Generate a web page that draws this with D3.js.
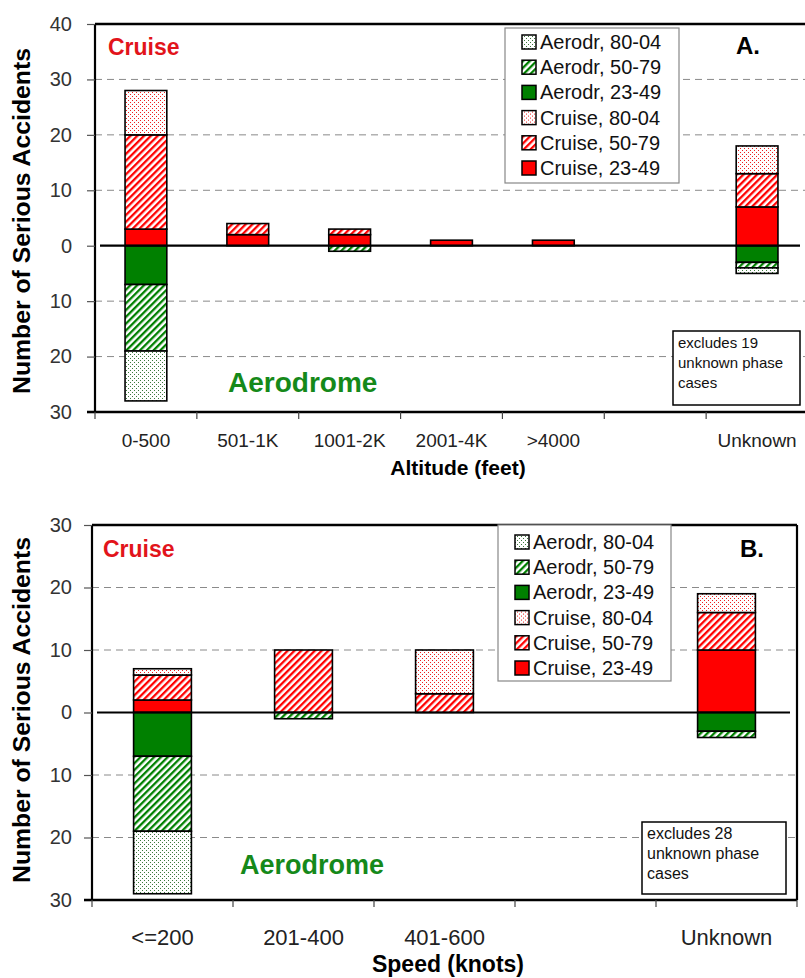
<!DOCTYPE html>
<html>
<head>
<meta charset="utf-8">
<script src="https://cdn.jsdelivr.net/npm/d3@7"></script>
<style>
body { margin: 0; background: #fff; }
text { font-family: Arial, "Liberation Sans", sans-serif; }
</style>
</head>
<body>
<div id="c1"></div>
<script>
// Panel A data (altitude)
var altCats = ["0-500", "501-1K", "1001-2K", "2001-4K", ">4000", "", "Unknown"];
var altCruise2349 = [3, 2, 2, 1, 1, 0, 7];
var altCruise5079 = [17, 2, 1, 0, 0, 0, 6];
var altCruise8004 = [8, 0, 0, 0, 0, 0, 5];
var altAero2349 = [7, 0, 0, 0, 0, 0, 3];
var altAero5079 = [12, 0, 1, 0, 0, 0, 1];
var altAero8004 = [9, 0, 0, 0, 0, 0, 1];
var altTicks = [-30, -20, -10, 0, 10, 20, 30, 40];

// Panel B data (speed)
var spdCats = ["<=200", "201-400", "401-600", "", "Unknown"];
var spdCruise2349 = [2, 0, 0, 0, 10];
var spdCruise5079 = [4, 10, 3, 0, 6];
var spdCruise8004 = [1, 0, 7, 0, 3];
var spdAero2349 = [7, 0, 0, 0, 3];
var spdAero5079 = [12, 1, 0, 0, 1];
var spdAero8004 = [10, 0, 0, 0, 0];
var spdTicks = [-30, -20, -10, 0, 10, 20, 30];

var legendKeys = ["a8004", "a5079", "a2349", "c8004", "c5079", "c2349"];
var legendLabels = ["Aerodr, 80-04", "Aerodr, 50-79", "Aerodr, 23-49", "Cruise, 80-04", "Cruise, 50-79", "Cruise, 23-49"];
var stackKeys = ["c2349", "a2349", "c5079", "a5079", "c8004", "a8004"];

var fills = {
    c2349: "#ff0000", a2349: "#008000",
    c5079: "url(#hatchRed)", a5079: "url(#hatchGreen)",
    c8004: "url(#dotRed)", a8004: "url(#dotGreen)"
};

var svg = d3.select("#c1").append("svg")
    .attr("width", 805)
    .attr("height", 978);

// Patterns
var defs = svg.append("defs");
function hatch(id, color) {
    var p = defs.append("pattern").attr("id", id)
        .attr("patternUnits", "userSpaceOnUse")
        .attr("width", 4.8).attr("height", 4.8)
        .attr("patternTransform", "rotate(45)");
    p.append("rect").attr("width", 4.8).attr("height", 4.8).attr("fill", "#fff");
    p.append("rect").attr("width", 2.3).attr("height", 4.8).attr("fill", color);
}
function dots(id, color) {
    var p = defs.append("pattern").attr("id", id)
        .attr("patternUnits", "userSpaceOnUse")
        .attr("width", 4).attr("height", 4);
    p.append("rect").attr("width", 4).attr("height", 4).attr("fill", "#fff");
    p.append("rect").attr("width", 1).attr("height", 1).attr("fill", color);
    p.append("rect").attr("x", 2).attr("y", 2).attr("width", 1).attr("height", 1).attr("fill", color);
}
hatch("hatchRed", "#ff0000");
hatch("hatchGreen", "#008000");
dots("dotRed", "#ee2020");
dots("dotGreen", "#3c7a3c");

function drawPanel(o) {
    var g = svg.append("g");
    var rows = o.cats.map(function (c, i) {
        return {
            cat: c,
            c2349: o.c2349[i], c5079: o.c5079[i], c8004: o.c8004[i],
            a2349: -o.a2349[i], a5079: -o.a5079[i], a8004: -o.a8004[i]
        };
    });

    var x = d3.scaleBand().domain(d3.range(o.cats.length))
        .range([o.x0, o.x1]).paddingInner(0.59).paddingOuter(0.295);
    var y = d3.scaleLinear().domain([o.ticks[0], o.ticks[o.ticks.length - 1]])
        .range([o.y1, o.y0]);

    // Gridlines
    g.selectAll("line.grid")
        .data(o.ticks.filter(function (t) { return t !== 0 && t !== y.domain()[0] && t !== y.domain()[1]; }))
        .enter().append("line")
        .attr("x1", o.x0).attr("x2", o.gridEnd)
        .attr("y1", function (d) { return y(d); })
        .attr("y2", function (d) { return y(d); })
        .attr("stroke", "#8a8a8a").attr("stroke-width", 1)
        .attr("stroke-dasharray", "7,5");

    // Stacked bars
    var series = d3.stack().keys(stackKeys).offset(d3.stackOffsetDiverging)(rows);
    series.forEach(function (s) {
        g.selectAll("rect.s" + s.key)
            .data(s.filter(function (d) { return d[1] - d[0] !== 0; }))
            .enter().append("rect")
            .attr("x", function (d) { return x(s.indexOf(d)); })
            .attr("width", x.bandwidth())
            .attr("y", function (d) { return y(Math.max(d[0], d[1])); })
            .attr("height", function (d) { return Math.abs(y(d[0]) - y(d[1])); })
            .attr("fill", fills[s.key])
            .attr("stroke", "#000").attr("stroke-width", 1.6);
    });

    // Zero line
    g.append("line")
        .attr("x1", o.x0 + 5).attr("x2", o.zeroEnd)
        .attr("y1", y(0)).attr("y2", y(0))
        .attr("stroke", "#000").attr("stroke-width", 2.2);

    // Frame
    g.append("line").attr("x1", o.x0).attr("x2", o.x0).attr("y1", o.y0).attr("y2", o.y1)
        .attr("stroke", "#000").attr("stroke-width", 2.2);
    g.append("line").attr("x1", o.x0).attr("x2", o.frameRight).attr("y1", o.y0).attr("y2", o.y0)
        .attr("stroke", "#000").attr("stroke-width", 2.5);
    if (o.rightBorder) {
        g.append("line").attr("x1", o.x1).attr("x2", o.x1).attr("y1", o.y0).attr("y2", o.y1)
            .attr("stroke", "#000").attr("stroke-width", 2.2);
    }

    // Y axis
    var yAxis = g.append("g").attr("transform", "translate(" + o.x0 + ",0)")
        .call(d3.axisLeft(y).tickValues(o.ticks).tickSize(8).tickPadding(o.yPad)
            .tickFormat(function (d) { return Math.abs(d); }));
    yAxis.select(".domain").remove();
    yAxis.selectAll("line").attr("stroke", "#555").attr("stroke-width", 1.2);
    yAxis.selectAll("text").attr("font-size", 20).attr("fill", "#333");

    // X axis
    var xAxis = g.append("g").attr("transform", "translate(0," + o.y1 + ")")
        .call(d3.axisBottom(x).tickSize(0).tickPadding(o.xPad)
            .tickFormat(function (i) { return o.cats[i]; }));
    xAxis.select(".domain").remove();
    xAxis.selectAll("text").attr("font-size", o.xFont).attr("fill", "#222");
    g.append("line").attr("x1", o.x0 - 8).attr("x2", o.frameRight)
        .attr("y1", o.y1).attr("y2", o.y1)
        .attr("stroke", "#000").attr("stroke-width", 2.5);
    g.selectAll("line.xtick")
        .data(d3.range(o.cats.length + 1))
        .enter().append("line")
        .attr("x1", function (i) { return o.x0 + i * x.step(); })
        .attr("x2", function (i) { return o.x0 + i * x.step(); })
        .attr("y1", o.y1).attr("y2", o.y1 + 7)
        .attr("stroke", "#444").attr("stroke-width", 1.2);

    // Titles
    g.append("text")
        .attr("transform", "translate(" + 30 + "," + o.yTitleY + ") rotate(-90)")
        .attr("text-anchor", "middle")
        .attr("font-size", 23).attr("font-weight", "bold")
        .attr("textLength", 346).attr("lengthAdjust", "spacingAndGlyphs")
        .text("Number of Serious Accidents");
    g.append("text")
        .attr("x", o.xTitleX).attr("y", o.xTitleY)
        .attr("text-anchor", "middle")
        .attr("font-size", o.xTitleFont).attr("font-weight", "bold")
        .text(o.xTitle);

    g.append("text").attr("x", o.cruiseX).attr("y", o.cruiseY)
        .attr("font-size", 23).attr("font-weight", "bold").attr("fill", "#e2141b")
        .text("Cruise");
    g.append("text").attr("x", o.aeroX).attr("y", o.aeroY)
        .attr("font-size", o.aeroFont).attr("font-weight", "bold").attr("fill", "#15891a")
        .text("Aerodrome");
    g.append("text").attr("x", o.panelX).attr("y", o.panelY)
        .attr("font-size", 24).attr("font-weight", "bold")
        .text(o.panel);

    // Note box
    g.append("rect").attr("x", o.note[0]).attr("y", o.note[1])
        .attr("width", o.note[2]).attr("height", o.note[3])
        .attr("fill", "#fff").attr("stroke", "#000").attr("stroke-width", 1.5);
    o.noteLines.forEach(function (t, i) {
        g.append("text").attr("x", o.note[0] + 5).attr("y", o.note[1] + 17 + i * 20)
            .attr("font-size", o.noteFont).attr("fill", "#111").text(t);
    });

    // Legend
    var lg = g.append("g");
    lg.append("rect").attr("x", o.legend[0]).attr("y", o.legend[1])
        .attr("width", o.legend[2]).attr("height", o.legend[3])
        .attr("fill", "#fff").attr("stroke", "#888").attr("stroke-width", 1.2);
    var items = lg.selectAll("g.item").data(legendKeys).enter().append("g")
        .attr("transform", function (d, i) {
            return "translate(" + (o.legend[0] + 17) + "," + (o.legendRow0 + i * 25.2) + ")";
        });
    items.append("rect").attr("x", 0).attr("y", -7).attr("width", 14).attr("height", 14)
        .attr("fill", function (d) { return fills[d]; })
        .attr("stroke", "#000").attr("stroke-width", 1.5);
    items.append("text").attr("x", 18).attr("y", 7)
        .attr("font-size", 20).attr("fill", "#111")
        .text(function (d, i) { return legendLabels[i]; });
}

drawPanel({
    cats: altCats, ticks: altTicks,
    c2349: altCruise2349, c5079: altCruise5079, c8004: altCruise8004,
    a2349: altAero2349, a5079: altAero5079, a8004: altAero8004,
    x0: 95, x1: 808, y0: 24, y1: 412,
    gridEnd: 805, zeroEnd: 800, frameRight: 805, rightBorder: false,
    yPad: 15, xPad: 22, xFont: 19,
    yTitleY: 221, xTitle: "Altitude (feet)", xTitleX: 458, xTitleY: 475, xTitleFont: 21,
    cruiseX: 108, cruiseY: 55, aeroX: 228, aeroY: 392, aeroFont: 28,
    panel: "A.", panelX: 736, panelY: 54,
    note: [673, 331, 127, 74], noteLines: ["excludes 19", "unknown phase", "cases"], noteFont: 15,
    legend: [505, 28, 174, 155], legendRow0: 42
});

drawPanel({
    cats: spdCats, ticks: spdTicks,
    c2349: spdCruise2349, c5079: spdCruise5079, c8004: spdCruise8004,
    a2349: spdAero2349, a5079: spdAero5079, a8004: spdAero8004,
    x0: 92, x1: 797, y0: 525, y1: 900,
    gridEnd: 797, zeroEnd: 790, frameRight: 797, rightBorder: true,
    yPad: 12, xPad: 29, xFont: 22,
    yTitleY: 710, xTitle: "Speed (knots)", xTitleX: 448, xTitleY: 972, xTitleFont: 23,
    cruiseX: 103, cruiseY: 557, aeroX: 240, aeroY: 874, aeroFont: 27,
    panel: "B.", panelX: 740, panelY: 557,
    note: [642, 822, 144, 72], noteLines: ["excludes 28", "unknown phase", "cases"], noteFont: 16,
    legend: [498, 525, 173, 156], legendRow0: 542
});
</script>
</body>
</html>
